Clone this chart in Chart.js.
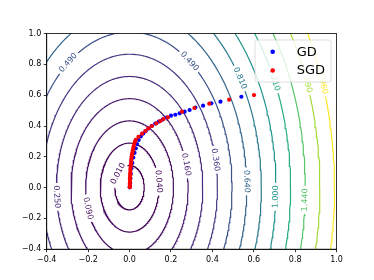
<!DOCTYPE html>
<html>
<head>
<meta charset="utf-8">
<script src="https://cdn.jsdelivr.net/npm/chart.js@4.4.1/dist/chart.umd.min.js"></script>
<style>
  html, body { margin: 0; padding: 0; background: #fff; }
  canvas { display: block; }
</style>
</head>
<body>
<canvas id="chart" width="374" height="280"></canvas>
<script>
// contour levels of f(x, y) = coefX*x^2 + coefY*y^2
const contourLevels = [0.01, 0.04, 0.09, 0.16, 0.25, 0.36, 0.49, 0.64, 0.81, 1.0, 1.21, 1.44, 1.69, 1.96];
const coefX = 2;
const coefY = 0.48;

// optimiser paths
const gdX = [0.540, 0.439, 0.395, 0.355, 0.318, 0.290, 0.266, 0.242, 0.221, 0.200, 0.180, 0.160, 0.141, 0.124, 0.107,
  0.092, 0.078, 0.066, 0.054, 0.044, 0.036, 0.030, 0.024, 0.018, 0.013, 0.009, 0.006, 0.004, 0.003, 0.002, 0.001];
const gdY = [0.590, 0.558, 0.547, 0.532, 0.520, 0.504, 0.493, 0.482, 0.473, 0.467, 0.455, 0.442, 0.429, 0.416, 0.400,
  0.384, 0.367, 0.351, 0.332, 0.309, 0.283, 0.255, 0.225, 0.195, 0.160, 0.125, 0.090, 0.060, 0.030, 0.010, 0.002];

const sgdX = [0.601, 0.481, 0.385, 0.313, 0.253, 0.185, 0.164, 0.148, 0.129, 0.108, 0.091, 0.076, 0.060, 0.043, 0.030,
  0.026, 0.023, 0.020, 0.018, 0.016, 0.014, 0.012, 0.010, 0.009, 0.008, 0.007, 0.006, 0.005, 0.004, 0.004,
  0.003, 0.003, 0.002, 0.002, 0.002, 0.001, 0.001, 0.001];
const sgdY = [0.601, 0.571, 0.545, 0.517, 0.493, 0.456, 0.445, 0.432, 0.417, 0.400, 0.385, 0.367, 0.350, 0.330, 0.310,
  0.298, 0.284, 0.270, 0.257, 0.243, 0.229, 0.216, 0.202, 0.188, 0.175, 0.161, 0.147, 0.134, 0.120, 0.107,
  0.093, 0.080, 0.066, 0.052, 0.039, 0.025, 0.012, 0.003];

// where the inline contour labels sit (level, y value, left/right half)
const labelLevels = [0.49, 0.49, 0.81, 1.21, 1.69, 1.96, 0.36, 0.16, 0.64, 1.0, 1.44, 0.25, 0.09, 0.01, 0.04];
const labelY      = [0.81, 0.82, 0.71, 0.70, 0.69, 0.68, 0.18, 0.15, 0.04, -0.06, -0.08, -0.06, -0.135, 0.09, 0.04];
const labelSide   = [-1, 1, 1, 1, 1, 1, 1, 1, 1, 1, 1, -1, -1, -1, 1];

const FONT = "'DejaVu Sans', sans-serif";

const viridisStops = ['#440154', '#471365', '#482475', '#463480', '#414487', '#3b528b', '#355f8d', '#2f6c8e',
  '#2a788e', '#25848e', '#21918c', '#1e9c89', '#22a884', '#2fb47c', '#44bf70', '#5ec962', '#7ad151',
  '#9bd93c', '#bddf26', '#dfe318', '#fde725'];

function hexRgb(h) {
  return [parseInt(h.slice(1, 3), 16), parseInt(h.slice(3, 5), 16), parseInt(h.slice(5, 7), 16)];
}

function viridis(t) {
  const p = Math.max(0, Math.min(1, t)) * (viridisStops.length - 1);
  const i = Math.min(Math.floor(p), viridisStops.length - 2);
  const f = p - i;
  const a = hexRgb(viridisStops[i]), b = hexRgb(viridisStops[i + 1]);
  const c = a.map((v, k) => Math.round(v + (b[k] - v) * f));
  return 'rgb(' + c.join(',') + ')';
}

function levelColor(level) {
  const lo = contourLevels[0], hi = contourLevels[contourLevels.length - 1];
  return viridis((level - lo) / (hi - lo));
}

function ellipse(level) {
  const a = Math.sqrt(level / coefX), b = Math.sqrt(level / coefY);
  const pts = [];
  for (let i = 0; i <= 360; i++) {
    const t = i * Math.PI / 180;
    pts.push({ x: a * Math.cos(t), y: b * Math.sin(t) });
  }
  return pts;
}

function fmtTick(v) {
  if (Math.abs(v) < 1e-9) v = 0;
  return v.toFixed(1).replace('-', '\u2212');
}

// label spots in pixels, with the angle of the contour there
function labelSpots(chart) {
  const xs = chart.scales.x, ys = chart.scales.y;
  const kx = xs.getPixelForValue(1) - xs.getPixelForValue(0);
  const ky = ys.getPixelForValue(0) - ys.getPixelForValue(1);
  const ctx = chart.ctx;
  ctx.save();
  ctx.font = '8px ' + FONT;
  const spots = labelLevels.map((level, i) => {
    const y = labelY[i];
    const x = labelSide[i] * Math.sqrt(Math.max(0, (level - coefY * y * y) / coefX));
    const tx = -coefY * y, ty = coefX * x;
    let ang = Math.atan2(-ty * ky, tx * kx);
    if (ang > Math.PI / 2) ang -= Math.PI;
    if (ang < -Math.PI / 2) ang += Math.PI;
    const text = level.toFixed(3);
    return {
      level, text, ang,
      px: xs.getPixelForValue(x), py: ys.getPixelForValue(y),
      w: ctx.measureText(text).width
    };
  });
  ctx.restore();
  return spots;
}

const contourLabels = {
  id: 'contourLabels',
  beforeDatasetDraw(chart, args) {
    const ds = chart.data.datasets[args.index];
    if (ds.level === undefined) return;
    const ctx = chart.ctx;
    const spots = labelSpots(chart).filter(s => s.level === ds.level);
    ctx.save();
    ctx.beginPath();
    ctx.rect(0, 0, chart.width, chart.height);
    spots.forEach(s => {
      const hw = s.w / 2 + 2.5, hh = 4.5;
      const c = Math.cos(s.ang), sn = Math.sin(s.ang);
      const corners = [[-hw, -hh], [hw, -hh], [hw, hh], [-hw, hh]].map(p =>
        [s.px + p[0] * c - p[1] * sn, s.py + p[0] * sn + p[1] * c]);
      ctx.moveTo(corners[0][0], corners[0][1]);
      for (let k = 1; k < 4; k++) ctx.lineTo(corners[k][0], corners[k][1]);
      ctx.closePath();
    });
    ctx.clip('evenodd');
  },
  afterDatasetDraw(chart, args) {
    const ds = chart.data.datasets[args.index];
    if (ds.level === undefined) return;
    const ctx = chart.ctx;
    ctx.restore();
    const spots = labelSpots(chart).filter(s => s.level === ds.level);
    spots.forEach(s => {
      ctx.save();
      ctx.translate(s.px, s.py);
      ctx.rotate(s.ang);
      ctx.font = '8px ' + FONT;
      ctx.fillStyle = ds.borderColor;
      ctx.textAlign = 'center';
      ctx.textBaseline = 'middle';
      ctx.fillText(s.text, 0, 0);
      ctx.restore();
    });
  },
  afterDatasetsDraw(chart) {
    const a = chart.chartArea, ctx = chart.ctx;
    ctx.save();
    ctx.strokeStyle = '#000';
    ctx.lineWidth = 0.8;
    ctx.strokeRect(a.left, a.top, a.right - a.left, a.bottom - a.top);
    ctx.restore();
  }
};

const boxLegend = {
  id: 'boxLegend',
  afterDraw(chart) {
    const a = chart.chartArea, ctx = chart.ctx;
    const w = 76, h = 42;
    const left = a.right - 5.6 - w, top = a.top + 6.4;
    ctx.save();
    ctx.beginPath();
    ctx.roundRect(left, top, w, h, 2.5);
    ctx.fillStyle = 'rgba(255,255,255,0.8)';
    ctx.fill();
    ctx.strokeStyle = 'rgba(204,204,204,0.8)';
    ctx.lineWidth = 0.8;
    ctx.stroke();
    const rows = [['GD', '#0000ff', top + 11.7], ['SGD', '#ff0000', top + 30.5]];
    ctx.font = '13px ' + FONT;
    ctx.textBaseline = 'middle';
    rows.forEach(r => {
      ctx.beginPath();
      ctx.arc(left + 17.7, r[2], 2.3, 0, Math.PI * 2);
      ctx.fillStyle = r[1];
      ctx.fill();
      ctx.fillStyle = '#000';
      ctx.fillText(r[0], left + 41.7, r[2] + 0.5);
    });
    ctx.restore();
  }
};

const datasets = contourLevels.map(level => ({
  level: level,
  data: ellipse(level),
  showLine: true,
  pointRadius: 0,
  borderColor: levelColor(level),
  borderWidth: 1.2,
  fill: false,
  clip: 0,
  order: 3
}));

datasets.push({
  label: 'GD',
  data: gdX.map((x, i) => ({ x: x, y: gdY[i] })),
  backgroundColor: '#0000ff',
  borderWidth: 0,
  pointRadius: 2.1,
  order: 2
});
datasets.push({
  label: 'SGD',
  data: sgdX.map((x, i) => ({ x: x, y: sgdY[i] })),
  backgroundColor: '#ff0000',
  borderWidth: 0,
  pointRadius: 2.1,
  order: 1
});

function axis(min, max, fit) {
  return {
    type: 'linear',
    min: min,
    max: max,
    ticks: {
      stepSize: 0.2,
      callback: v => fmtTick(v),
      color: '#000',
      font: { family: FONT, size: 8 },
      padding: 2.5,
      maxRotation: 0
    },
    grid: { drawOnChartArea: false, drawTicks: true, tickLength: 3, tickColor: '#000', tickWidth: 0.8 },
    border: { display: true, color: '#000', width: 0.8 },
    afterFit: fit
  };
}

new Chart(document.getElementById('chart'), {
  type: 'scatter',
  data: { datasets: datasets },
  options: {
    responsive: false,
    animation: false,
    devicePixelRatio: 1,
    layout: { padding: { top: 33.6, right: 37.4, left: 0, bottom: 0 } },
    plugins: { legend: { display: false }, tooltip: { enabled: false } },
    scales: {
      x: axis(-0.4, 1.0, s => { s.height = 30.8; }),
      y: axis(-0.4, 1.0, s => { s.width = 46.75; })
    }
  },
  plugins: [contourLabels, boxLegend]
});
</script>
</body>
</html>
